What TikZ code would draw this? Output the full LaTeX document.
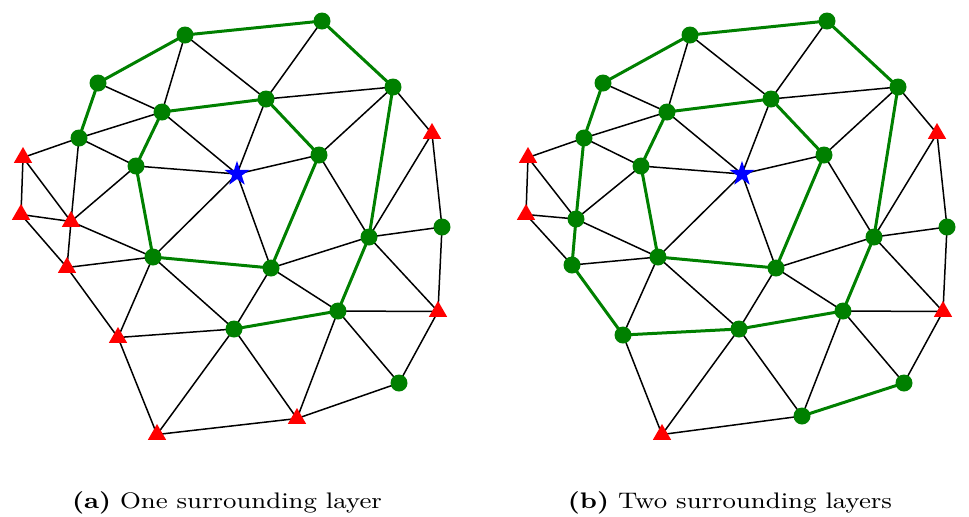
\documentclass[tikz,border=0pt]{standalone}
\usepackage{xcolor}
\definecolor{meshgreen}{RGB}{0, 128, 0}
\definecolor{markred}{RGB}{255, 0, 0}
\definecolor{starblue}{RGB}{0, 0, 255}
\usepackage{tikz}
\usetikzlibrary{shapes.geometric, backgrounds}

% one triangulated patch; #1 name prefix, #2 x offset, #3 style of the outer-ring points
\newcommand{\meshpanel}[3]{%
  \begin{scope}[shift={(#2,0)}]
    \foreach \n/\x/\y in {A/185/35, B/322/21, C/98/83, D/393/87, E/266/99, F/162/112,
        H/79/138, I/319/155, J/136/166, K/442/227, L/369/237, M/153/257,
        N/271/268, O/338/311, P/234/329, Q/399/383}
      \node[gdot] (#1\n) at (\x,\y) {};
    \foreach \n/\x/\y in {R/432/131, T1/23/155, T2/21/212, T5/438/309, T8/157/432}
      \node[rtri] (#1\n) at (\x,\y) {};
    \foreach \n/\x/\y in {T3/71/219, T4/67/265, T6/118/335, T7/297/416}
      \node[#3] (#1\n) at (\x,\y) {};
    \node[cstar] (#1S) at (237,174) {};
  \end{scope}
  \begin{pgfonlayer}{background}
    \foreach \u/\v in {A/F, A/E, B/E, C/F, D/E, D/I, D/R, E/S, F/H, F/S, H/T1, H/J,
        H/T3, T1/T2, T1/T3, T2/T3, J/S, J/T3, S/I, S/M, S/N, I/L, R/L, R/K, K/L,
        K/T5, T3/M, T2/T4, T3/T4, T4/M, N/L, M/T6, M/P, N/P, N/O, L/T5, T5/O,
        T5/Q, O/Q, O/T7, P/T6, P/T8, P/T7, T6/T4, T6/T8, T8/T7, T7/Q}
      \draw[meshline] (#1\u.center) -- (#1\v.center);
    \foreach \u/\v in {A/B, A/C, C/H, B/D, D/L, L/O, O/P, E/F, F/J, J/M, M/N, N/I, I/E}
      \draw[ringline] (#1\u.center) -- (#1\v.center);
  \end{pgfonlayer}}

\begin{document}
\begin{tikzpicture}[x=0.4pt, y=-0.4pt,
    meshline/.style={black, line width=0.6pt},
    ringline/.style={meshgreen, line width=1.2pt},
    gdot/.style={circle, fill=meshgreen, inner sep=0pt, minimum size=6.8pt},
    rtri/.style={regular polygon, regular polygon sides=3, fill=markred,
        inner sep=0pt, minimum size=8.4pt, yshift=-1pt},
    cstar/.style={star, star points=5, star point ratio=2.6, fill=starblue,
        inner sep=0pt, minimum size=10.5pt},
    caption/.style={font=\fontsize{9}{11}\selectfont, xscale=1.16, anchor=base}]
  \useasboundingbox (0,0) rectangle (969,516);

  \meshpanel{a}{0}{rtri}
  \meshpanel{b}{505}{gdot}

  % second surrounding layer
  \begin{pgfonlayer}{background}
    \foreach \u/\v in {H/T3, T3/T4, T4/T6, T6/P, T7/Q}
      \draw[ringline] (b\u.center) -- (b\v.center);
  \end{pgfonlayer}

  \node[caption] (capa) at (227,508) {\textbf{(a)} One surrounding layer};
  \node[caption] (capb) at (730,508) {\textbf{(b)} Two surrounding layers};
\end{tikzpicture}
\end{document}
